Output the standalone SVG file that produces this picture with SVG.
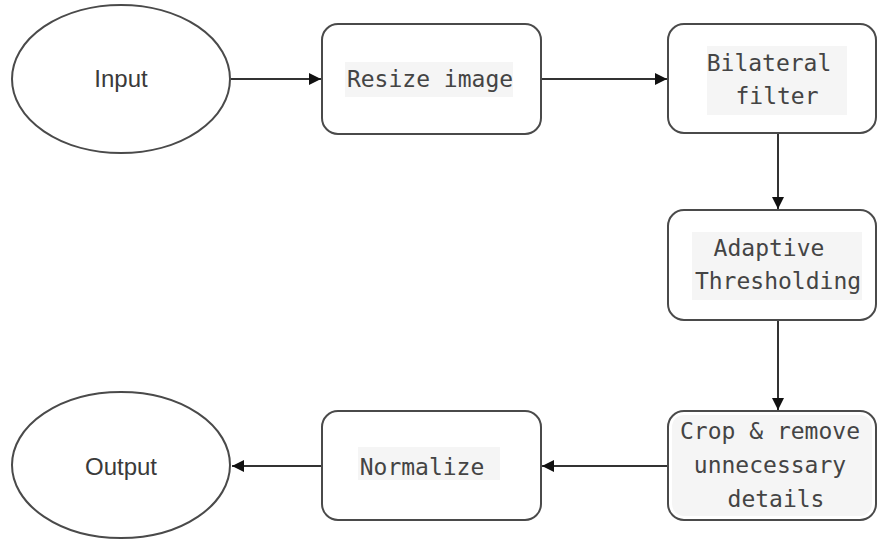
<svg xmlns="http://www.w3.org/2000/svg" width="878" height="539" viewBox="0 0 878 539">
  <style>
    .shape { fill: #ffffff; stroke: #4a4a4a; stroke-width: 2; }
    .lblbg { fill: #f5f5f5; stroke: none; }
    .mono { font-family: "DejaVu Sans Mono", "Liberation Mono", monospace; font-size: 23px; fill: #444444; text-anchor: middle; }
    .sans { font-family: "Liberation Sans", Arial, sans-serif; font-size: 24px; fill: #3a3a3a; text-anchor: middle; }
    .edge { fill: none; stroke: #333333; stroke-width: 2; marker-end: url(#arrow); }
  </style>
  <defs>
    <marker id="arrow" viewBox="0 0 10 10" refX="10" refY="5" markerWidth="6" markerHeight="6" markerUnits="strokeWidth" orient="auto">
      <path d="M0,0 L10,5 L0,10 z" fill="#111111"/>
    </marker>
  </defs>
  <rect width="878" height="539" fill="#ffffff"/>

  <g id="connectors">
    <path class="edge" d="M231,79 L321,79"/>
    <path class="edge" d="M541,79 L667,79"/>
    <path class="edge" d="M778,134 L778,209"/>
    <path class="edge" d="M778,320 L778,410"/>
    <path class="edge" d="M668,466 L542,466"/>
    <path class="edge" d="M322,466 L232,466"/>
  </g>

  <g id="input">
    <ellipse class="shape" cx="121" cy="79" rx="109" ry="74"/>
    <text class="sans" x="121" y="87">Input</text>
  </g>

  <g id="resize">
    <rect class="shape" x="322" y="24" width="219" height="110" rx="16"/>
    <rect class="lblbg" x="345" y="62" width="168" height="35"/>
    <text class="mono" x="430" y="87">Resize image</text>
  </g>

  <g id="bilateral">
    <rect class="shape" x="668" y="24" width="208" height="109" rx="16"/>
    <rect class="lblbg" x="707" y="46" width="140" height="69"/>
    <text class="mono" x="769" y="71">Bilateral</text>
    <text class="mono" x="777" y="104">filter</text>
  </g>

  <g id="adaptive">
    <rect class="shape" x="668" y="210" width="208" height="110" rx="16"/>
    <rect class="lblbg" x="692" y="232" width="170" height="68"/>
    <text class="mono" x="769" y="256">Adaptive</text>
    <text class="mono" x="778" y="289">Thresholding</text>
  </g>

  <g id="crop">
    <rect class="shape" x="668" y="411" width="208" height="109" rx="16"/>
    <rect class="lblbg" x="672" y="415" width="200" height="101" rx="12"/>
    <text class="mono" x="770" y="439">Crop &amp; remove</text>
    <text class="mono" x="770" y="473">unnecessary</text>
    <text class="mono" x="776" y="507">details</text>
  </g>

  <g id="normalize">
    <rect class="shape" x="322" y="411" width="219" height="109" rx="16"/>
    <rect class="lblbg" x="358" y="447" width="142" height="33"/>
    <text class="mono" x="422" y="475">Normalize</text>
  </g>

  <g id="output">
    <ellipse class="shape" cx="121" cy="465" rx="109" ry="73"/>
    <text class="sans" x="121" y="475">Output</text>
  </g>
</svg>
